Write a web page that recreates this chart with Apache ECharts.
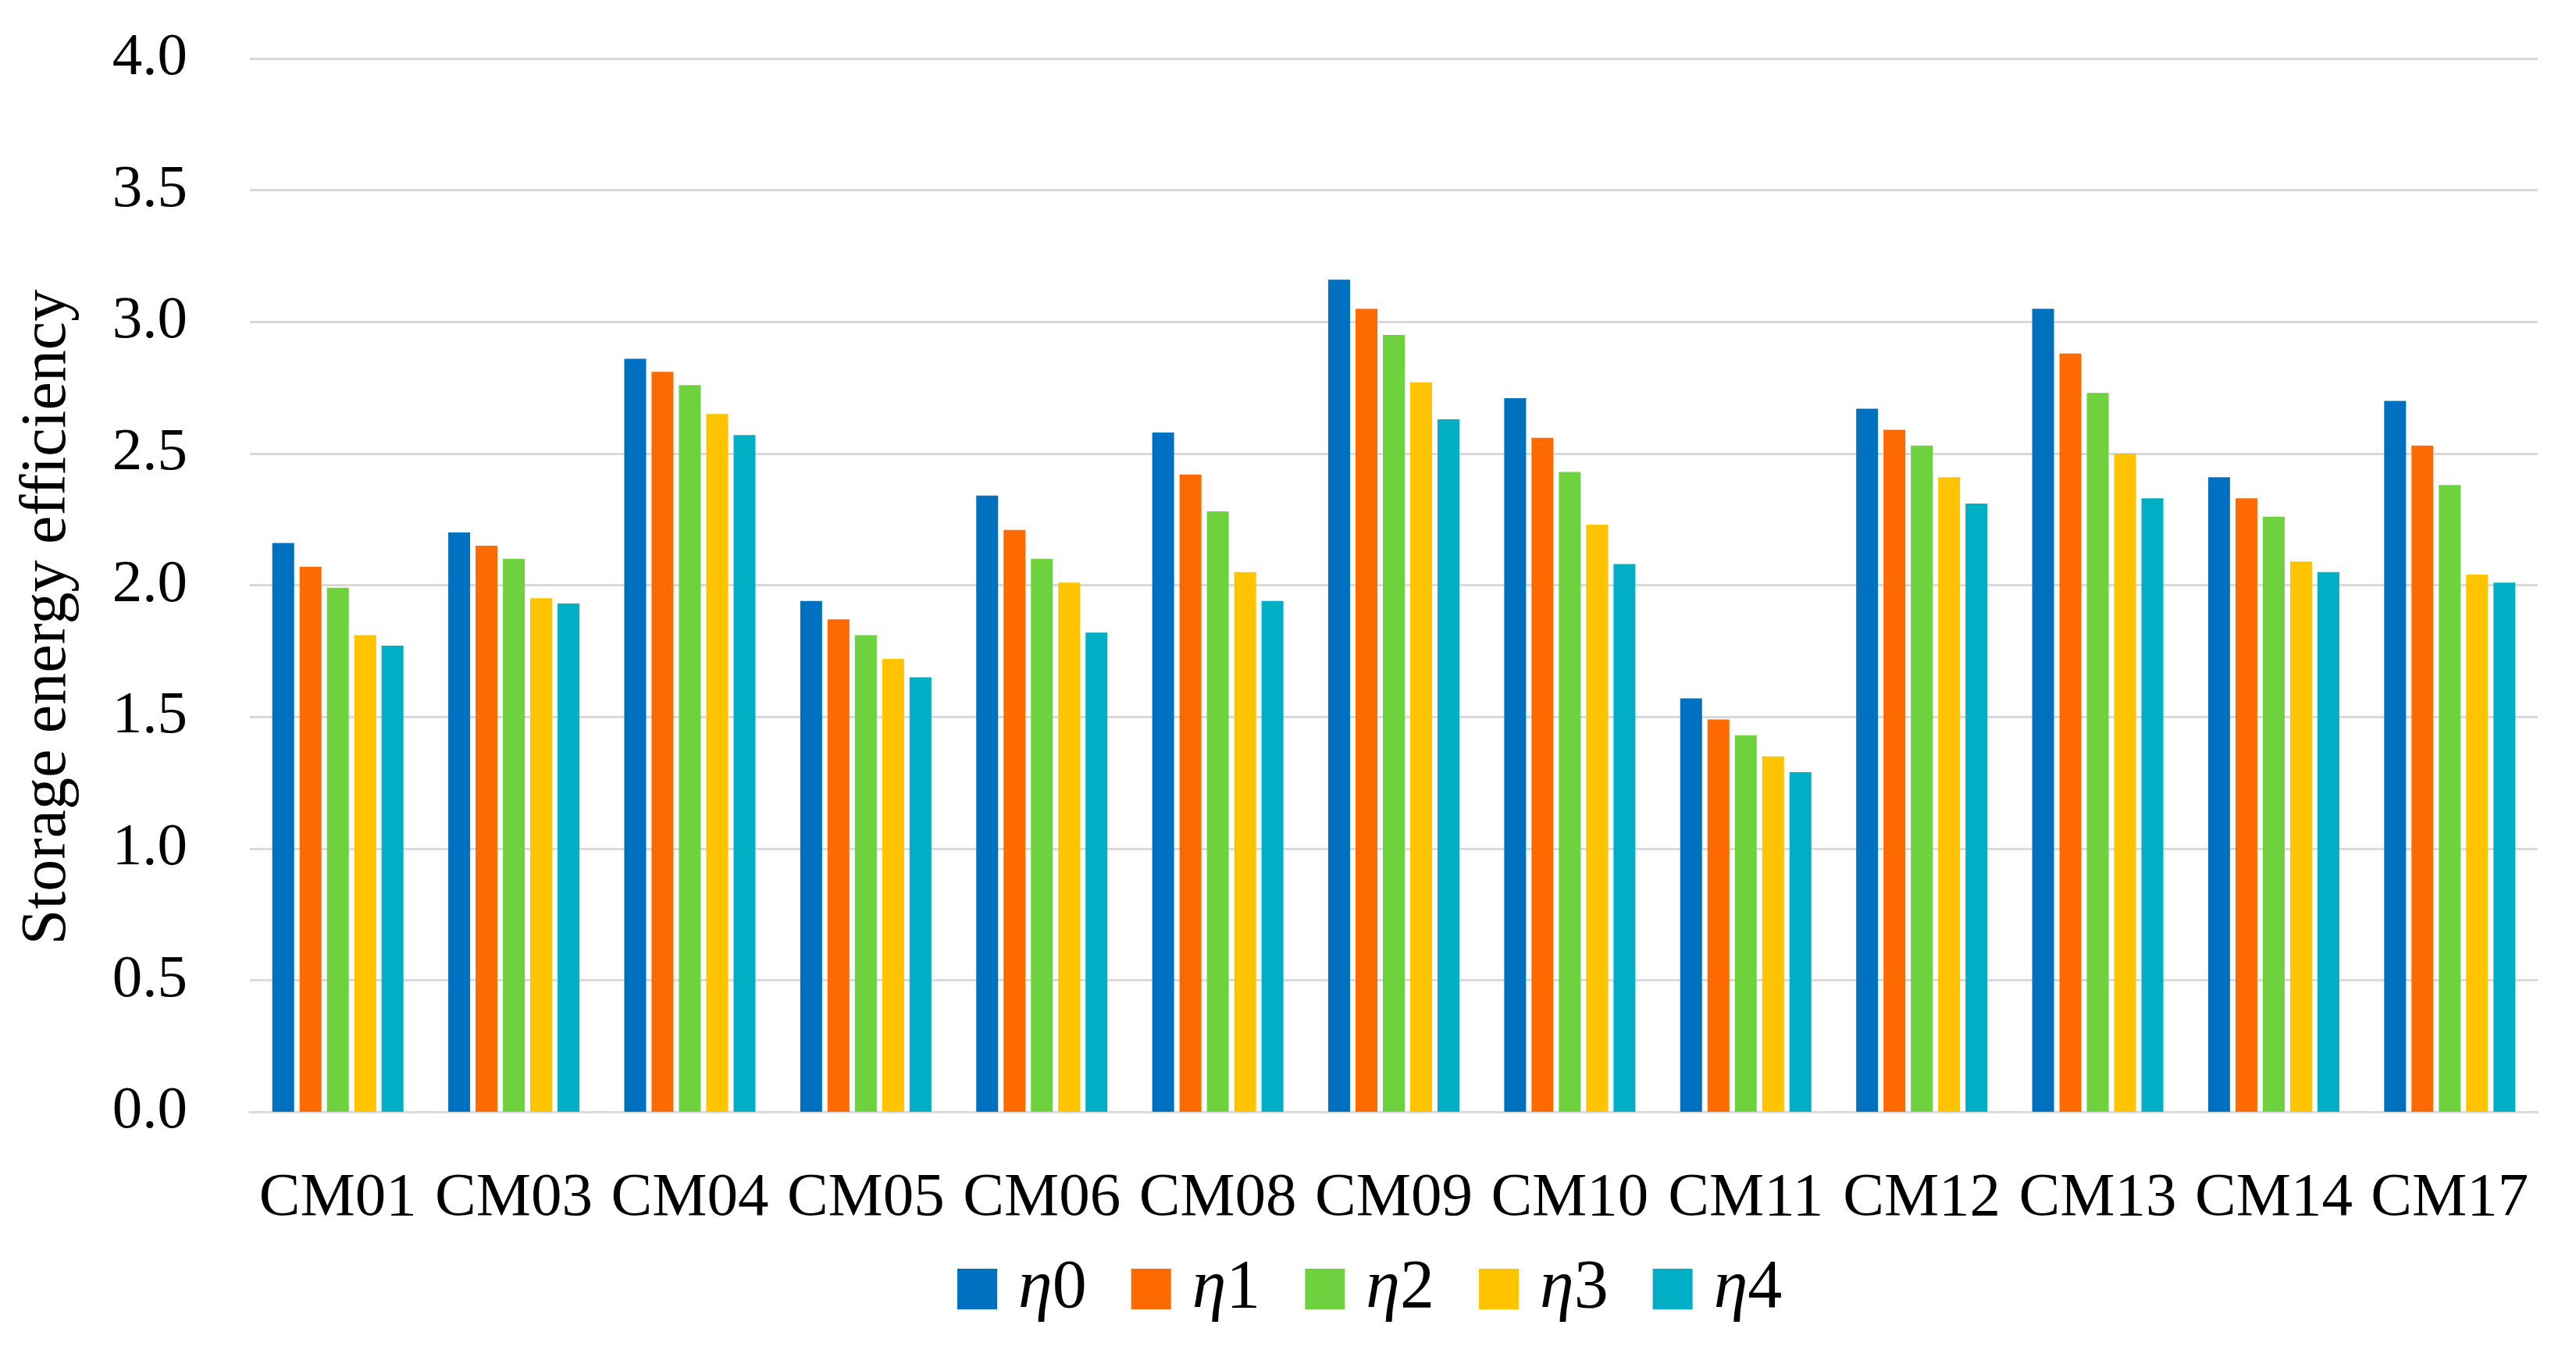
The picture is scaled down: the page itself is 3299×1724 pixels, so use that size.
<!DOCTYPE html>
<html>
<head>
<meta charset="utf-8">
<script src="https://cdn.jsdelivr.net/npm/echarts@6/dist/echarts.min.js"></script>
<style>
html,body{margin:0;padding:0;background:#fff;}
#chart{width:3299px;height:1724px;}
</style>
</head>
<body>
<div id="chart"></div>
<script>
const categories = ['CM01','CM03','CM04','CM05','CM06','CM08','CM09','CM10','CM11','CM12','CM13','CM14','CM17'];
const seriesNames = ['η0','η1','η2','η3','η4'];
const eta0 = [2.16, 2.20, 2.86, 1.94, 2.34, 2.58, 3.16, 2.71, 1.57, 2.67, 3.05, 2.41, 2.70];
const eta1 = [2.07, 2.15, 2.81, 1.87, 2.21, 2.42, 3.05, 2.56, 1.49, 2.59, 2.88, 2.33, 2.53];
const eta2 = [1.99, 2.10, 2.76, 1.81, 2.10, 2.28, 2.95, 2.43, 1.43, 2.53, 2.73, 2.26, 2.38];
const eta3 = [1.81, 1.95, 2.65, 1.72, 2.01, 2.05, 2.77, 2.23, 1.35, 2.41, 2.50, 2.09, 2.04];
const eta4 = [1.77, 1.93, 2.57, 1.65, 1.82, 1.94, 2.63, 2.08, 1.29, 2.31, 2.33, 2.05, 2.01];
const yAxisTitle = 'Storage energy efficiency';

const seriesData = [eta0, eta1, eta2, eta3, eta4];
const colors = ['#0070C0', '#FF6A00', '#6ED13E', '#FFC300', '#00AFC6'];
const fontFamily = '"Liberation Serif", "DejaVu Serif", serif';

const chart = echarts.init(document.getElementById('chart'), null, {renderer: 'canvas'});
chart.setOption({
  animation: false,
  backgroundColor: '#ffffff',
  color: colors,
  grid: {left: 320, right: 49, top: 75, bottom: 300, containLabel: false},
  legend: {
    left: 1221,
    top: 1602,
    itemWidth: 51,
    itemHeight: 52,
    itemGap: 57,
    icon: 'rect',
    data: seriesNames,
    formatter: function (name) { return '{i|η}{n|' + name.slice(1) + '}'; },
    textStyle: {
      fontFamily: fontFamily,
      fontSize: 88,
      color: '#000',
      width: 100,
      padding: [0, 0, 0, 22],
      rich: {
        i: {fontFamily: fontFamily, fontSize: 88, fontStyle: 'italic', color: '#000'},
        n: {fontFamily: fontFamily, fontSize: 88, color: '#000'}
      }
    }
  },
  xAxis: {
    type: 'category',
    data: categories,
    axisLine: {show: true, lineStyle: {color: '#D9D9D9', width: 3}},
    axisTick: {show: false},
    axisLabel: {fontFamily: fontFamily, fontSize: 79, color: '#000', margin: 72, interval: 0}
  },
  yAxis: {
    type: 'value',
    min: 0,
    max: 4,
    interval: 0.5,
    name: yAxisTitle,
    nameLocation: 'middle',
    nameGap: 218,
    nameTextStyle: {fontFamily: fontFamily, fontSize: 82, color: '#000', padding: [0, 82, 0, 0]},
    axisLine: {show: false},
    axisTick: {show: false},
    axisLabel: {
      fontFamily: fontFamily, fontSize: 77, color: '#000', margin: 80,
      formatter: function (v) { return v.toFixed(1); }
    },
    splitLine: {show: true, lineStyle: {color: '#D9D9D9', width: 3}}
  },
  series: seriesNames.map(function (n, i) {
    return {
      name: n,
      type: 'bar',
      data: seriesData[i],
      barWidth: 28,
      barGap: '25%',
      itemStyle: {color: colors[i]}
    };
  })
});
</script>
</body>
</html>
